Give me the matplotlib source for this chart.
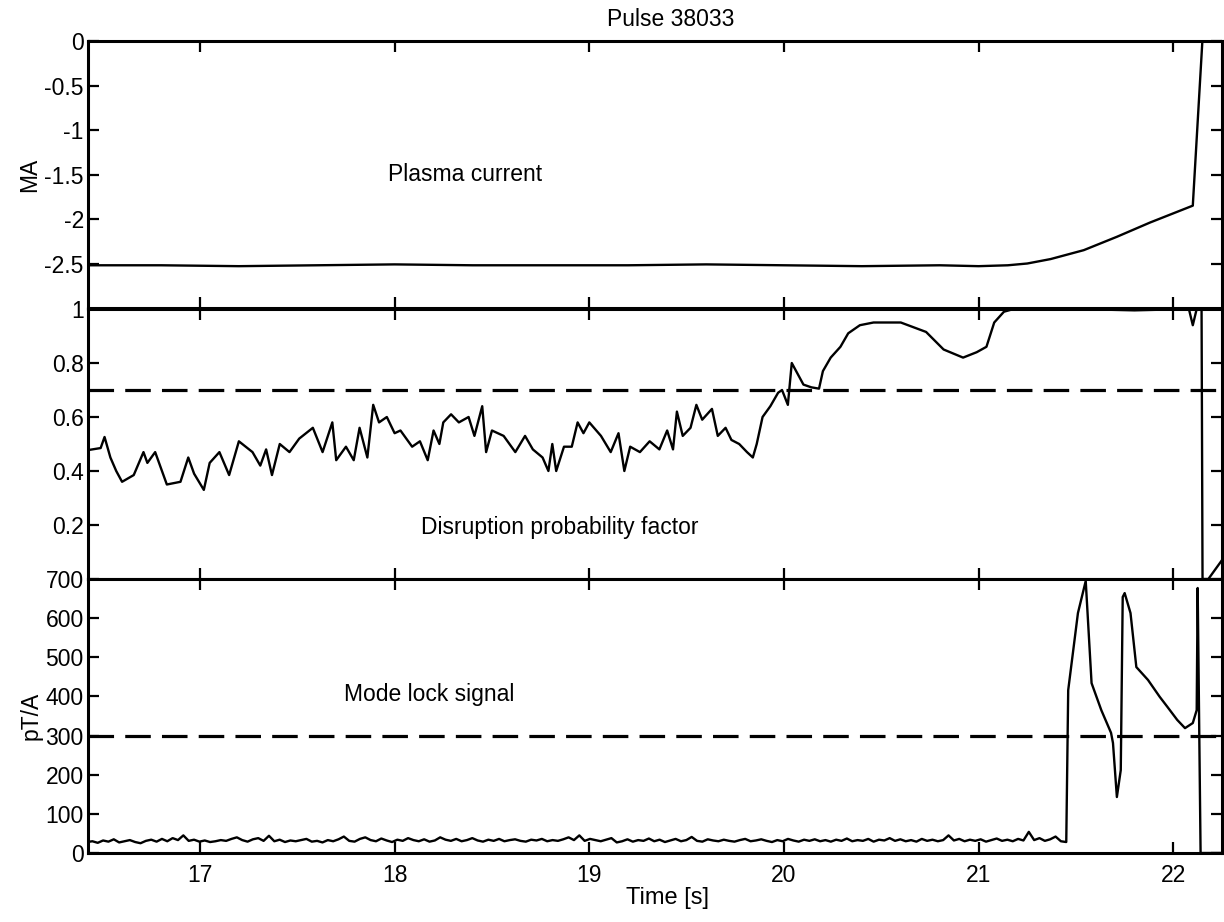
import numpy as np
import matplotlib
matplotlib.use("Agg")
import matplotlib.pyplot as plt

plt.rcParams['font.family'] = ['Liberation Sans', 'DejaVu Sans']

# plasma current (MA)
ip_t = [16.42, 16.8, 17.2, 17.6, 18.0, 18.4, 18.8, 19.2, 19.6, 20.0, 20.4, 20.8, 21.0,
        21.15, 21.25, 21.37, 21.54, 21.71, 21.88, 22.1, 22.15, 22.25]
ip_v = [-2.52, -2.52, -2.53, -2.52, -2.51, -2.52, -2.52, -2.52, -2.51, -2.52, -2.53, -2.52, -2.53,
        -2.52, -2.50, -2.45, -2.35, -2.20, -2.04, -1.85, 0.03, 0.03]

# disruption probability factor
dp_t = [16.43, 16.49, 16.51, 16.54, 16.57, 16.60, 16.66, 16.71, 16.73, 16.77, 16.83, 16.90, 16.94,
        16.97, 17.02, 17.05, 17.10, 17.15, 17.20, 17.27, 17.31, 17.34, 17.37, 17.41, 17.46, 17.51,
        17.58, 17.63, 17.68, 17.70, 17.75, 17.79, 17.82, 17.86, 17.89, 17.92, 17.96, 18.00, 18.03,
        18.09, 18.13, 18.17, 18.20, 18.23, 18.25, 18.29, 18.33, 18.38, 18.41, 18.45, 18.47, 18.50,
        18.56, 18.62, 18.67, 18.71, 18.76, 18.79, 18.81, 18.83, 18.87, 18.91, 18.94, 18.97, 19.00,
        19.06, 19.11, 19.15, 19.18, 19.21, 19.26, 19.31, 19.36, 19.40, 19.43, 19.45, 19.48, 19.52,
        19.55, 19.58, 19.63, 19.66, 19.70, 19.73, 19.77, 19.81, 19.84, 19.86, 19.89, 19.93, 19.97,
        19.99, 20.02, 20.04, 20.07, 20.10, 20.14, 20.18, 20.20, 20.24, 20.29, 20.33, 20.39, 20.46,
        20.56, 20.60, 20.73, 20.82, 20.92, 20.99, 21.04, 21.08, 21.13, 21.18, 21.50, 21.80, 22.08,
        22.10, 22.12, 22.145, 22.15, 22.18, 22.25]
dp_v = [0.478, 0.485, 0.526, 0.45, 0.40, 0.36, 0.385, 0.47, 0.43, 0.47, 0.35, 0.36, 0.45,
        0.39, 0.33, 0.43, 0.47, 0.385, 0.51, 0.47, 0.42, 0.48, 0.385, 0.50, 0.47, 0.52,
        0.56, 0.47, 0.58, 0.44, 0.49, 0.44, 0.56, 0.45, 0.645, 0.58, 0.60, 0.54, 0.55,
        0.49, 0.51, 0.44, 0.55, 0.50, 0.58, 0.61, 0.58, 0.60, 0.53, 0.64, 0.47, 0.55,
        0.53, 0.47, 0.53, 0.48, 0.45, 0.40, 0.50, 0.40, 0.49, 0.49, 0.58, 0.54, 0.58,
        0.53, 0.47, 0.54, 0.40, 0.49, 0.47, 0.51, 0.48, 0.55, 0.48, 0.62, 0.53, 0.56,
        0.645, 0.59, 0.63, 0.53, 0.56, 0.515, 0.50, 0.47, 0.45, 0.50, 0.60, 0.64, 0.69,
        0.70, 0.645, 0.80, 0.76, 0.72, 0.71, 0.705, 0.77, 0.82, 0.86, 0.91, 0.94, 0.95,
        0.95, 0.95, 0.915, 0.85, 0.82, 0.84, 0.86, 0.95, 0.99, 1.0, 1.0, 0.995, 1.0,
        0.94, 1.0, 1.0, 0.0, 0.0, 0.07]
dp_threshold = 0.7

# mode lock signal (pT/A): noisy baseline then locked-mode spikes
ml_base = [28, 30, 26, 32, 29, 35, 27, 30, 33, 28, 25, 31, 34, 29, 36, 30, 38, 33, 45, 31,
           34, 29, 32, 28, 30, 33, 31, 36, 40, 33, 29, 35, 38, 31, 44, 30, 34, 28, 32, 30,
           33, 36, 29, 31, 27, 33, 30, 35, 42, 31, 29, 36, 40, 33, 30, 37, 32, 28, 34, 31,
           38, 33, 30, 35, 29, 32, 40, 34, 31, 36, 30, 33, 38, 32, 29, 34, 31, 36, 30, 33,
           35, 31, 29, 34, 32, 36, 30, 33, 31, 35, 40, 33, 45, 31, 36, 33, 30, 34, 38, 27,
           30, 35, 29, 33, 31, 37, 30, 34, 28, 32, 36, 30, 33, 41, 31, 29, 35, 32, 30, 34,
           31, 29, 33, 36, 30, 32, 35, 31, 28, 33, 30, 36, 32, 29, 34, 31, 35, 30, 33, 29,
           34, 31, 37, 30, 33, 31, 36, 29, 34, 32, 38, 31, 35, 30, 33, 29, 36, 31, 34, 30,
           33, 45, 32, 36, 30, 34, 31, 35, 29, 33, 37, 31, 34, 30, 36, 32, 54, 33, 38, 31,
           35, 42, 30, 28]
ml_spike_t = [21.46, 21.51, 21.55, 21.58, 21.63, 21.68, 21.69, 21.71, 21.73, 21.74, 21.75,
              21.78, 21.81, 21.87, 21.93, 21.97, 22.02, 22.06, 22.10, 22.12, 22.125, 22.14, 22.25]
ml_spike_v = [416, 613, 695, 434, 365, 307, 281, 143, 212, 654, 664,
              613, 475, 442, 399, 373, 340, 319, 332, 365, 677, 0, 0]
ml_threshold = 300

ml_t = list(np.linspace(16.42, 21.45, len(ml_base))) + ml_spike_t
ml_v = ml_base + ml_spike_v

xlim = (16.425, 22.25)
W, H = 1224, 922
fs = 16.5

fig = plt.figure(figsize=(W / 100, H / 100), dpi=100)
left, width = 88 / W, (1222 - 88) / W
ax1 = fig.add_axes([left, 1 - 308 / H, width, 267 / H])
ax2 = fig.add_axes([left, 1 - 579 / H, width, 270 / H])
ax3 = fig.add_axes([left, 1 - 853 / H, width, 274 / H])

lw = 1.7
ax1.plot(ip_t, ip_v, color='black', lw=lw)
ax2.plot(dp_t, dp_v, color='black', lw=lw)
ax3.plot(ml_t, ml_v, color='black', lw=lw)

for ax, thr in [(ax2, dp_threshold), (ax3, ml_threshold)]:
    ln = ax.axhline(thr, color='black', lw=2.3)
    ln.set_dashes((8, 3.5))

ax1.set_ylim(-3, 0)
ax1.set_yticks([0, -0.5, -1, -1.5, -2, -2.5])
ax1.set_yticklabels(['0', '-0.5', '-1', '-1.5', '-2', '-2.5'])
ax2.set_ylim(0, 1)
ax2.set_yticks([0.2, 0.4, 0.6, 0.8, 1])
ax2.set_yticklabels(['0.2', '0.4', '0.6', '0.8', '1'])
ax3.set_ylim(0, 700)
ax3.set_yticks(range(0, 701, 100))

for ax in (ax1, ax2, ax3):
    ax.set_xlim(*xlim)
    ax.set_xticks([17, 18, 19, 20, 21, 22])
    ax.tick_params(direction='in', length=8, width=1.6, top=True, right=True,
                   labelsize=fs, pad=3, colors='black')
    for s in ax.spines.values():
        s.set_linewidth(2.2)
ax1.tick_params(labelbottom=False)
ax2.tick_params(labelbottom=False)
ax3.tick_params(axis='x', pad=8)

ax1.set_ylabel('MA', fontsize=fs, labelpad=2)
ax3.set_ylabel('pT/A', fontsize=fs, labelpad=2)
ax3.set_xlabel('Time [s]', fontsize=fs + 0.5)
ax3.xaxis.set_label_coords((668 - 88) / (1222 - 88), -(887 - 853) / 274, transform=ax3.transAxes)

ax1.text(18.36, -1.5, 'Plasma current', fontsize=fs, ha='center', va='center')
ax2.text(18.85, 0.19, 'Disruption probability factor', fontsize=fs, ha='center', va='center')
ax3.text(18.18, 404, 'Mode lock signal', fontsize=fs, ha='center', va='center')

fig.text(671 / W, 1 - 19 / H, 'Pulse 38033', fontsize=fs, ha='center', va='center')

fig.savefig('out.png', dpi=100)
